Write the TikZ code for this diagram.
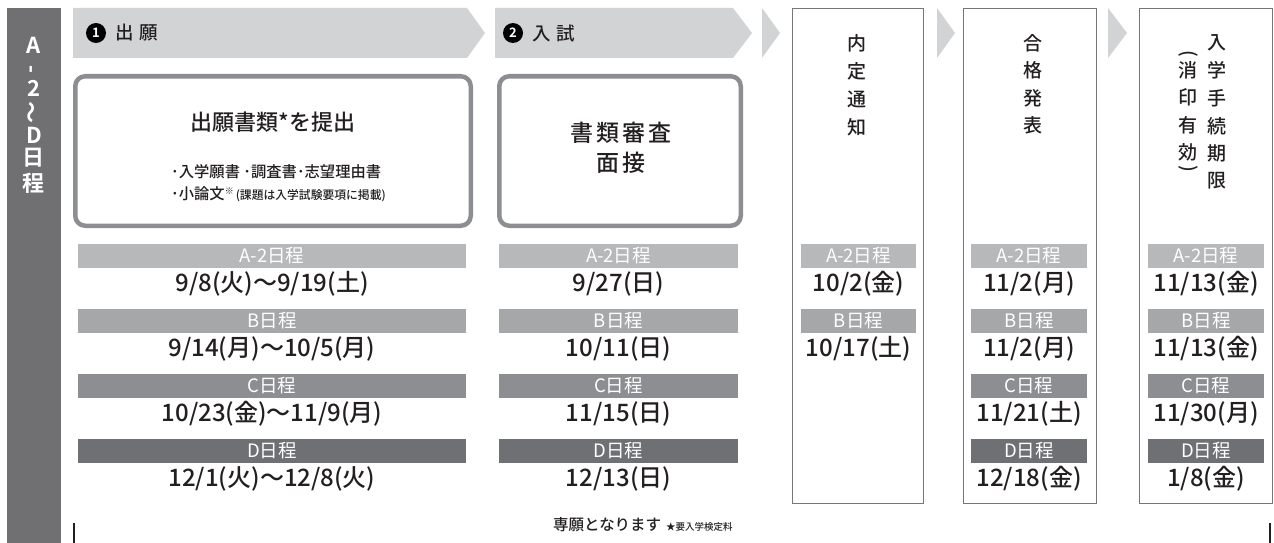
\documentclass[tikz,border=0pt]{standalone}
\usepackage{fontspec}
\setmainfont{Noto Sans CJK JP Medium}
\newfontfamily\jpreg{Noto Sans CJK JP}
\newfontfamily\jpbold{Noto Sans CJK JP Bold}
\newfontfamily\widejp[LetterSpace=12]{Noto Sans CJK JP Medium}
\usetikzlibrary{positioning}

\definecolor{sidegray}{RGB}{112,112,115}
\definecolor{chevgray}{RGB}{209,211,212}
\definecolor{framegray}{RGB}{141,142,145}
\definecolor{linegray}{RGB}{118,118,121}
\definecolor{barA}{RGB}{183,184,186}
\definecolor{barB}{RGB}{166,167,169}
\definecolor{barC}{RGB}{141,142,145}
\definecolor{barD}{RGB}{111,112,115}
\definecolor{inkblack}{RGB}{35,31,32}

\tikzset{
  chev/.style={fill=chevgray, draw=none},
  stepframe/.style={draw=framegray, line width=4.5pt, rounded corners=10pt, fill=white},
  slotframe/.style={draw=linegray, line width=0.9pt},
  datebar/.style={inner sep=0pt, minimum height=24pt, text=white, font=\jpreg\fontsize{18.5}{20}\selectfont},
  datetxt/.style={inner sep=0pt, text=inkblack, font=\fontsize{24}{26}\selectfont},
  vchar/.style={inner sep=0pt, text=inkblack, font=\fontsize{19}{21}\selectfont},
  sidechar/.style={inner sep=0pt, text=white, font=\jpbold\fontsize{22}{24}\selectfont},
  stepnum/.style={circle, fill=black, inner sep=0pt, minimum size=20pt, text=white, font=\jpbold\fontsize{13}{13}\selectfont},
  steptitle/.style={inner sep=0pt, text=inkblack, font=\fontsize{18.5}{20}\selectfont},
}

% one schedule slot: grey bar with its label, date below
\newcommand{\datecell}[7]{%
  \node[datebar, fill=#5, minimum width=#3] (#1) at (#2,#4) {#6};
  \node[datetxt] (#1d) at ([yshift=-28]#1.center) {#7};}

\begin{document}
\begin{tikzpicture}[x=1pt,y=-1pt]
  \useasboundingbox (0,0) rectangle (1274,543);
  \fill[white] (0,0) rectangle (1274,543);

  % side bar
  \fill[sidegray] (7,8) rectangle (61,543);
  \foreach \ch/\yy [count=\i] in {A/45, 2/88, D/135, 日/158, 程/183}
    \node[sidechar] (side\i) at (34,\yy) {\ch};
  \node[sidechar, rotate=90] (sidedash) at (34,69) {-};
  \node[sidechar, rotate=90] (sidewave) at (34,112) {〜};

  % step arrows
  \fill[chev] (73,8) -- (467,8) -- (485,33) -- (467,58) -- (73,58) -- cycle;
  \fill[chev] (495,8) -- (733,8) -- (752,33) -- (733,58) -- (495,58) -- cycle;
  \fill[chev] (762,8) -- (780,33) -- (762,58) -- cycle;
  \fill[chev] (937,8) -- (955,33) -- (937,58) -- cycle;
  \fill[chev] (1108,8) -- (1127,33) -- (1108,58) -- cycle;

  \node[stepnum] (num1) at (96,33) {1};
  \node[steptitle, right=9pt of num1] (title1) {出\hspace{6pt}願};
  \node[stepnum] (num2) at (513,33) {2};
  \node[steptitle, right=9pt of num2] (title2) {入\hspace{6pt}試};

  % step boxes
  \draw[stepframe] (75.25,76.25) rectangle (470.75,225.75);
  \node[inner sep=0pt, text=inkblack, font=\fontsize{22}{24}\selectfont] (docs) at (273,122) {出願書類*を提出};
  \node[inner sep=0pt, anchor=west, text=inkblack, font=\fontsize{15.3}{18}\selectfont] (docs1) at (171,172) {･入学願書 ･調査書･志望理由書};
  \node[inner sep=0pt, anchor=west, text=inkblack, font=\fontsize{15.3}{18}\selectfont] (docs2) at (171,194)
    {･小論文\raisebox{5pt}{\fontsize{9}{9}\selectfont ※}\hspace{2pt}{\fontsize{11.8}{13}\selectfont (課題は入学試験要項に掲載)}};

  \draw[stepframe] (499.25,76.25) rectangle (740.75,225.75);
  \node[inner sep=0pt, text=inkblack, font=\widejp\fontsize{23}{25}\selectfont] (exam1) at (621,133) {書類審査};
  \node[inner sep=0pt, text=inkblack, font=\widejp\fontsize{23}{25}\selectfont] (exam2) at (621,163) {面接};

  % result boxes
  \draw[slotframe] (792,8) rectangle (923,503);
  \draw[slotframe] (963,8) rectangle (1096,503);
  \draw[slotframe] (1139,8) rectangle (1272,503);

  \foreach \ch [count=\i] in {内,定,通,知}
    \node[vchar] (notice\i) at (857,{43+28*(\i-1)}) {\ch};
  \foreach \ch [count=\i] in {合,格,発,表}
    \node[vchar] (pass\i) at (1033,{43+27.5*(\i-1)}) {\ch};
  \foreach \ch [count=\i] in {入,学,手,続,期,限}
    \node[vchar] (enrol\i) at (1217,{43+27.6*(\i-1)}) {\ch};
  \node[vchar, rotate=-90] (stampo) at (1188,54) {(};
  \foreach \ch [count=\i] in {消,印,有,効}
    \node[vchar] (stamp\i) at (1188,{70+27.5*(\i-1)}) {\ch};
  \node[vchar, rotate=-90] (stampc) at (1188,169) {)};

  % schedule dates
  \datecell{ap1}{272}{388}{256}{barA}{A-2日程}{9/8(火)〜9/19(土)}
  \datecell{ap2}{272}{388}{321}{barB}{B日程}{9/14(月)〜10/5(月)}
  \datecell{ap3}{272}{388}{386}{barC}{C日程}{10/23(金)〜11/9(月)}
  \datecell{ap4}{272}{388}{451}{barD}{D日程}{12/1(火)〜12/8(火)}

  \datecell{ex1}{618.5}{239}{256}{barA}{A-2日程}{9/27(日)}
  \datecell{ex2}{618.5}{239}{321}{barB}{B日程}{10/11(日)}
  \datecell{ex3}{618.5}{239}{386}{barC}{C日程}{11/15(日)}
  \datecell{ex4}{618.5}{239}{451}{barD}{D日程}{12/13(日)}

  \datecell{no1}{858.5}{115}{256}{barA}{A-2日程}{10/2(金)}
  \datecell{no2}{858.5}{115}{321}{barB}{B日程}{10/17(土)}

  \datecell{pa1}{1029}{116}{256}{barA}{A-2日程}{11/2(月)}
  \datecell{pa2}{1029}{116}{321}{barB}{B日程}{11/2(月)}
  \datecell{pa3}{1029}{116}{386}{barC}{C日程}{11/21(土)}
  \datecell{pa4}{1029}{116}{451}{barD}{D日程}{12/18(金)}

  \datecell{en1}{1206}{116}{256}{barA}{A-2日程}{11/13(金)}
  \datecell{en2}{1206}{116}{321}{barB}{B日程}{11/13(金)}
  \datecell{en3}{1206}{116}{386}{barC}{C日程}{11/30(月)}
  \datecell{en4}{1206}{116}{451}{barD}{D日程}{1/8(金)}

  % footer
  \node[inner sep=0pt, anchor=west, text=inkblack, font=\fontsize{15.5}{18}\selectfont] (footer) at (553,525)
    {専願となります\hspace{5pt}{\fontsize{9.5}{12}\selectfont ★要入学検定料}};
  \coordinate (tickl) at (74,523);
  \coordinate (tickr) at (1270,523);
  \draw[line width=2pt, inkblack] (tickl) -- ++(0,20);
  \draw[line width=2pt, inkblack] (tickr) -- ++(0,20);
\end{tikzpicture}
\end{document}
